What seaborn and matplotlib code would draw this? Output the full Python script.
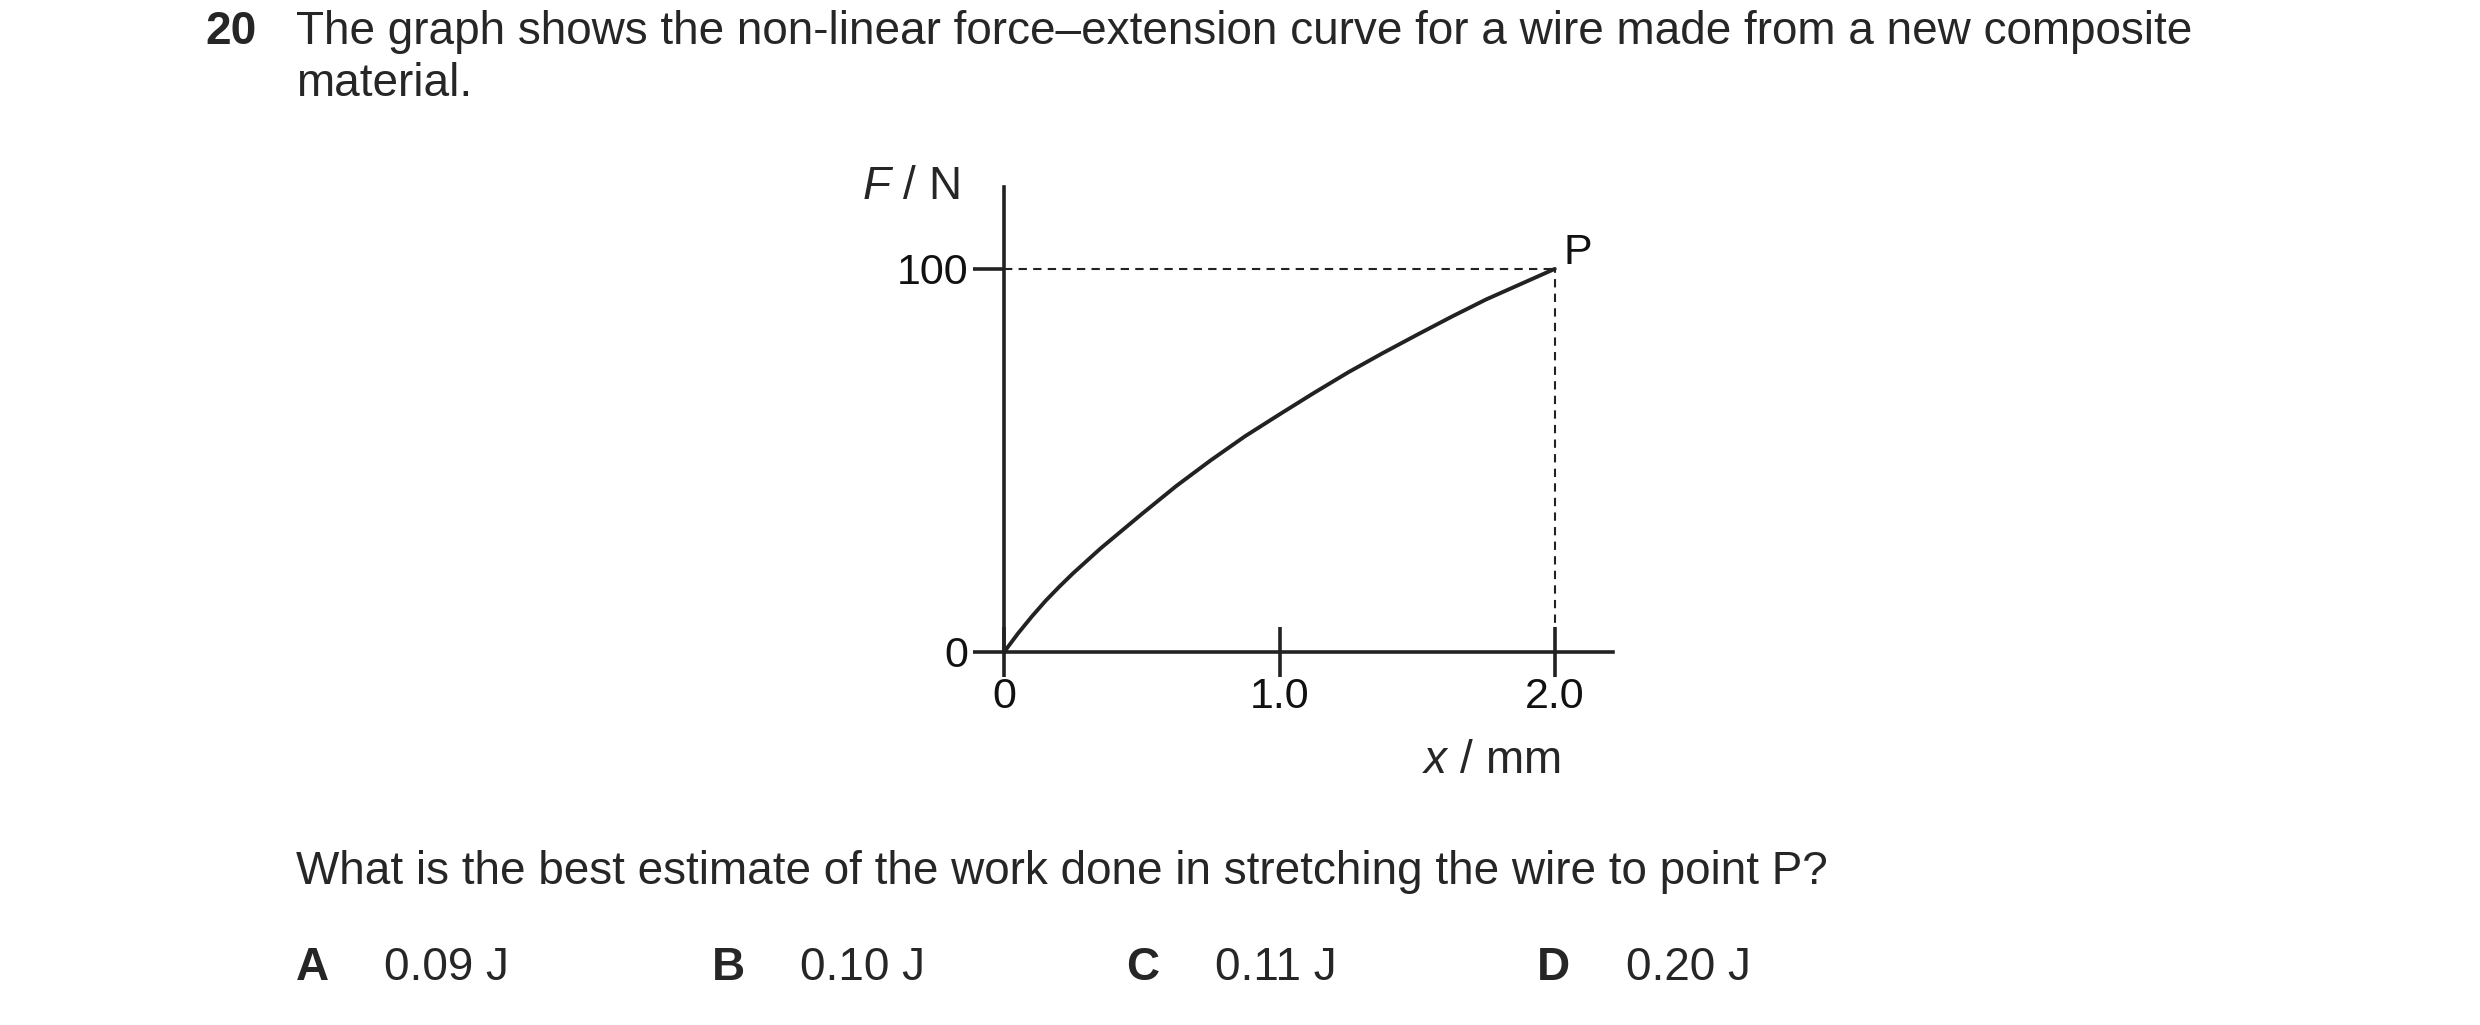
import matplotlib
matplotlib.use("Agg")
import matplotlib.pyplot as plt
import seaborn as sns
import pandas as pd

# curve values
extension_mm = [0.0, 0.05, 0.1, 0.15, 0.2, 0.25, 0.35, 0.5, 0.625, 0.75, 0.875, 1.0,
                1.125, 1.25, 1.375, 1.5, 1.625, 1.75, 1.875, 2.0]
force_N = [0.0, 4.8, 9.2, 13.3, 17.0, 20.5, 27.0, 36.0, 43.3, 50.0, 56.3, 62.0,
           67.6, 73.0, 78.0, 82.8, 87.5, 92.0, 96.0, 100.0]
p_point = (2.0, 100.0)
x_ticks = [0, 1.0, 2.0]
x_tick_labels = ["0", "1.0", "2.0"]
y_ticks = [0, 100]
y_tick_labels = ["0", "100"]
answers = [("A", "0.09 J"), ("B", "0.10 J"), ("C", "0.11 J"), ("D", "0.20 J")]

sns.set_theme(style="white")
plt.rcParams['font.family'] = ['Liberation Sans', 'DejaVu Sans']
plt.rcParams['mathtext.fontset'] = 'custom'
plt.rcParams['mathtext.it'] = 'Liberation Sans:italic'
plt.rcParams['mathtext.rm'] = 'Liberation Sans'

fig = plt.figure(figsize=(24.8, 10.25), dpi=100)
W, H = 1568.0, 648.0
def fx(px): return px / W
def fy(py): return 1 - py / H

ax = fig.add_axes([fx(635), fy(412), fx(1020) - fx(635), fy(118) - fy(412)])
df = pd.DataFrame({"x": extension_mm, "F": force_N})
sns.lineplot(data=df, x="x", y="F", ax=ax, color="#222222", linewidth=2.8)
ax.plot([0, p_point[0]], [p_point[1], p_point[1]], ls=(0, (4, 3)), color="#222222", lw=1.5)
ax.plot([p_point[0], p_point[0]], [0, p_point[1]], ls=(0, (4, 3)), color="#222222", lw=1.5)
ax.text(p_point[0] + 0.03, p_point[1] - 1, "P", fontsize=31, va="bottom", ha="left", color="#111111")

ax.set_xlim(0, (1020 - 635) / (983 - 635) * 2.0)
ax.set_ylim(0, (412 - 118) / (412 - 170) * 100)
for s in ["top", "right"]:
    ax.spines[s].set_visible(False)
for s in ["left", "bottom"]:
    ax.spines[s].set_linewidth(2.6)
    ax.spines[s].set_color("#222222")
ax.set_xticks(x_ticks)
ax.set_xticklabels(x_tick_labels)
ax.set_yticks(y_ticks)
ax.set_yticklabels(y_tick_labels)
ax.tick_params(axis="x", bottom=True, direction="inout", length=36, width=2.6, labelsize=31,
               pad=0, color="#222222", labelcolor="#111111")
ax.tick_params(axis="y", left=True, direction="out", length=22, width=2.6, labelsize=31,
               pad=4, color="#222222", labelcolor="#111111")
ax.set_xlabel("")
ax.set_ylabel("")

fs = 33
fig.text(fx(576), fy(118), "$F$ / N", fontsize=fs, ha="center", va="center")
fig.text(fx(943), fy(481), "$x$ / mm", fontsize=fs, ha="center", va="center")

fig.text(fx(130), fy(20), "20", fontsize=fs, fontweight="bold", ha="left", va="center")
fig.text(fx(187), fy(20), "The graph shows the non-linear force\u2013extension curve for a wire made from a new composite",
         fontsize=fs, ha="left", va="center")
fig.text(fx(187), fy(53), "material.", fontsize=fs, ha="left", va="center")
fig.text(fx(187), fy(551), "What is the best estimate of the work done in stretching the wire to point P?",
         fontsize=fs, ha="left", va="center")
for (letter, val), xl in zip(answers, [187, 450, 712, 972]):
    fig.text(fx(xl), fy(612), letter, fontsize=fs, fontweight="bold", ha="left", va="center")
    fig.text(fx(xl + 56), fy(612), val, fontsize=fs, ha="left", va="center")

fig.savefig("out.png", dpi=100, facecolor="white")
